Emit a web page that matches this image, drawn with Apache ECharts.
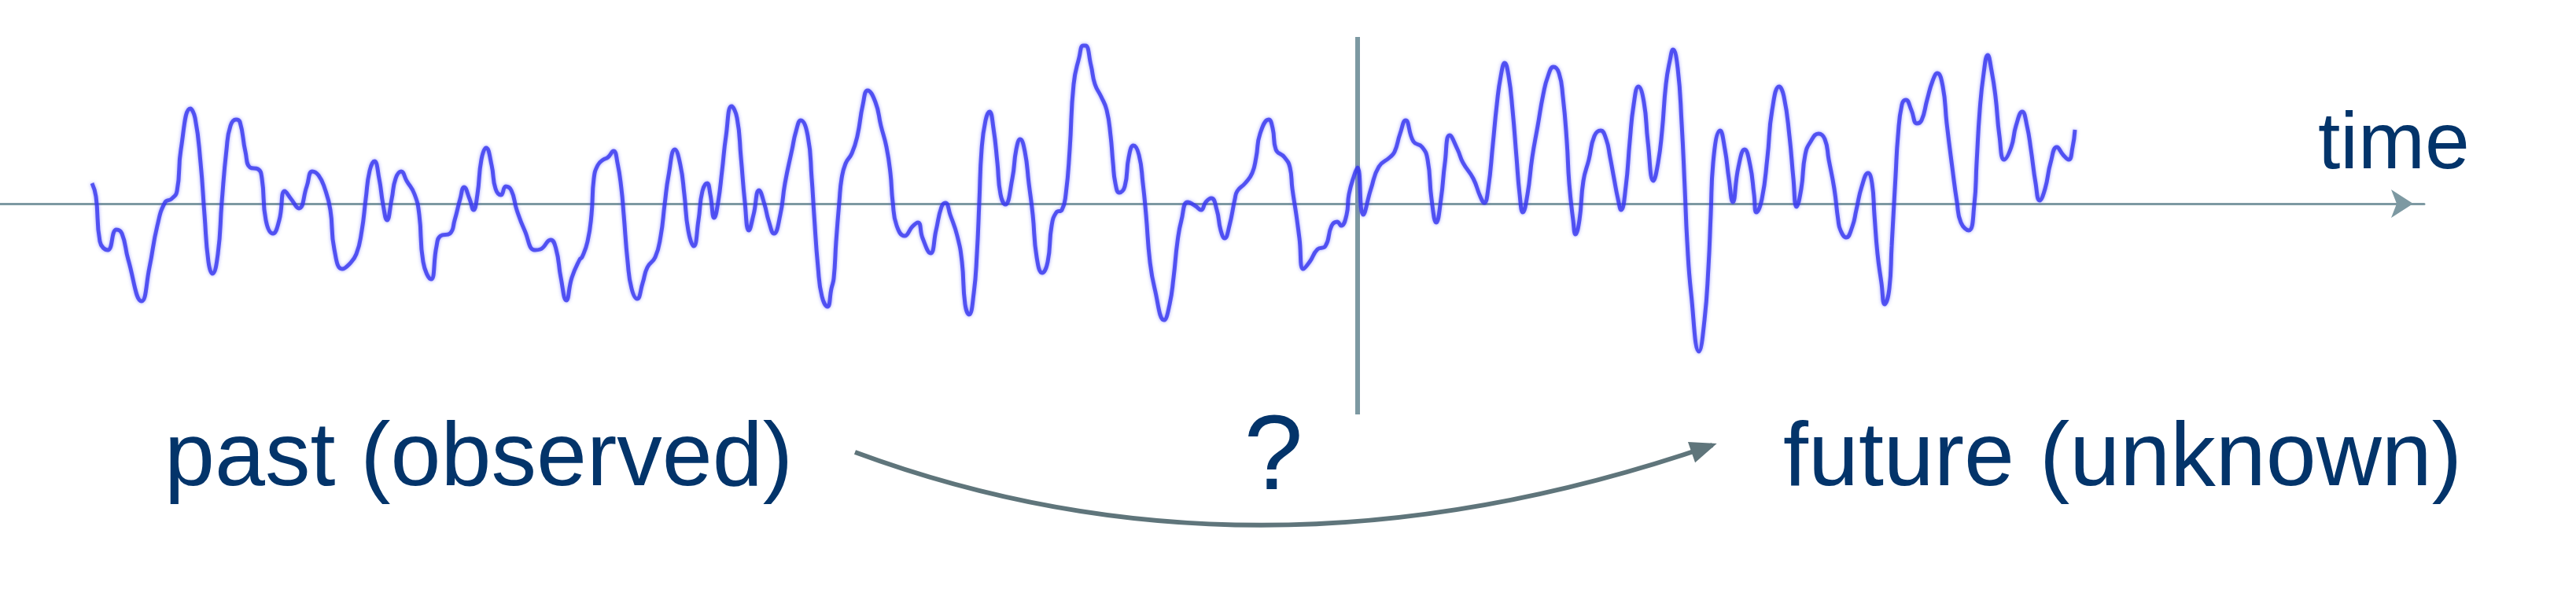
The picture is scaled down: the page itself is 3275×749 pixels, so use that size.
<!DOCTYPE html>
<html>
<head>
<meta charset="utf-8">
<script src="https://cdn.jsdelivr.net/npm/echarts@6/dist/echarts.min.js"></script>
<style>
html,body{margin:0;padding:0;background:#fff;}
#chart{width:3275px;height:749px;}
</style>
</head>
<body>
<div id="chart"></div>
<script>
// Signal samples: time (arbitrary units) and amplitude
const times = [0,5,10,20,31,38,46,63,73,83,93,101,108,113,125,131,138,143,148,153,160,165,171,176,183,188,195,201,211,216,221,230,238,245,253,263,273,280,288,296,
303,308,318,326,336,343,348,353,359,365,370,375,381,386,393,400,410,416,421,431,438,443,455,461,468,473,480,485,490,495,501,508,513,520,526,533,540,550,563,570,583,590,596,603,610,620,
623,630,635,638,643,650,656,663,668,673,676,681,686,693,700,706,716,723,728,733,741,748,753,758,765,771,776,782,786,791,796,801,806,813,820,825,830,835,841,848,855,860,867,875,881,890,895,901,910,915,918,923,928,935,940,
943,946,950,953,958,966,973,980,986,996,1003,1010,1015,1018,1023,1033,1043,1050,1056,1066,1073,1080,1085,1091,1100,1106,1110,1115,1121,1125,1128,1131,1136,1141,1146,1151,1155,1161,1170,1175,1180,1186,1191,1196,1201,1208,1215,1220,1226,1233,1238,1243,1248,1255,1260,
1263,1270,1275,1283,1290,1295,1298,1301,1306,1313,1318,1324,1331,1336,1340,1345,1351,1363,1370,1375,1380,1385,1393,1403,1410,1416,1423,1430,1435,1440,1446,1453,1456,1466,1475,1480,1485,1496,1501,1505,1516,1523,1526,1531,1535,1540,1548,1558,1568,1576,
1583,1588,1595,1598,1605,1609,1616,1626,1636,1650,1656,1663,1670,1680,1691,1698,1703,1709,1715,1720,1726,1736,1743,1756,1765,1770,1775,1781,1786,1791,1796,1801,1806,1811,1815,1819,1825,1831,1838,1845,1851,1858,1865,1870,1875,1878,1883,1886,1891,1896,
1903,1910,1918,1925,1930,1935,1940,1944,1950,1955,1960,1966,1973,1978,1985,1991,1996,2001,2006,2010,2016,2021,2025,2028,2033,2043,2050,2055,2058,2061,2070,2076,2081,2086,2093,2101,2108,2113,2116,2123,2130,2136,2145,2151,2158,2163,2167,2173,2178,2185,2195,2203,2208,2215,2220,
2223,2230,2238,2243,2250,2258,2263,2266,2270,2275,2279,2285,2288,2293,2296,2301,2306,2313,2320,2326,2333,2340,2346,2353,2358,2365,2371,2376,2386,2393,2396,2400,2405,2410,2415,2420,2425,2431,2440,2446,2454,2460,2465,2471,2476,2483,2490,2498,2506,2513,2518,2521];
const values = [26,9,-48,-59,-33,-38,-71,-124,-81,-28,2,6,16,69,121,109,52,-14,-74,-89,-64,2,69,99,107,104,66,46,44,32,-21,-38,-21,16,6,-6,22,41,36,19,
-8,-58,-83,-78,-64,-34,6,42,54,32,-1,-21,6,32,41,29,12,-14,-74,-96,-54,-41,-38,-21,6,21,6,-8,12,56,71,49,19,11,22,17,-8,-34,-59,-58,-46,-58,-94,-123,-94,-71,
-68,-48,-14,32,49,56,59,67,52,19,-14,-74,-108,-121,-101,-81,-68,-41,-1,36,69,49,12,-34,-54,-21,16,26,12,-18,2,42,86,124,109,59,2,-34,-14,17,-1,-21,-38,-14,26,69,92,106,86,32,-14,-81,-118,-131,-108,
-95,-48,2,32,51,64,86,126,144,129,99,72,39,2,-28,-41,-29,-24,-44,-63,-34,-4,1,-14,-41,-74,-128,-141,-114,-64,2,69,106,117,96,52,12,-1,32,69,82,66,26,-14,-68,-88,-74,-28,-11,-8,12,69,152,186,201,
201,176,152,136,119,86,52,26,14,22,59,74,62,26,-14,-74,-108,-148,-128,-94,-48,-21,2,-3,-8,2,7,-8,-34,-44,-28,6,16,26,39,59,89,107,96,69,59,46,19,-14,-44,-83,-74,-58,-54,-28,
-23,-28,-14,12,37,46,-14,19,47,59,66,89,106,79,72,56,6,-24,6,52,87,69,52,32,9,1,19,76,126,162,179,162,119,59,12,-11,12,59,99,139,162,174,166,136,79,26,-21,-39,-21,29,
56,86,93,82,59,32,6,-8,22,79,126,149,129,79,29,52,92,152,182,196,172,102,19,-48,-114,-188,-148,-81,-14,52,93,69,32,2,46,69,49,12,-11,6,59,119,149,136,86,32,-4,19,62,79,89,82,56,19,-21,
-34,-43,-29,-8,22,39,26,-14,-64,-101,-128,-108,-54,36,86,126,132,119,102,106,132,156,166,149,102,46,2,-24,-34,-1,52,119,166,189,169,136,86,56,72,99,117,99,69,26,4,19,52,72,62,56,72,94];
// Reference cut (present moment) and texts
const nowTime = 1609;
const cutRange = [212, -268];
const labels = { axis: 'time', past: 'past (observed)', future: 'future (unknown)', question: '?' };

const signal = times.map((t, i) => [t, values[i]]);
const cutLine = cutRange.map(v => [nowTime, v]);

const chart = echarts.init(document.getElementById('chart'), null, { renderer: 'canvas' });
const navy = '#03346a';
const axisGrey = '#7d99a2';
const font = '"Liberation Sans", Arial, sans-serif';

// Curved arrow geometry (annotation)
const p0 = [1087, 575], pc = [1600, 765], p1 = [2177, 566];
const dx = p1[0] - pc[0], dy = p1[1] - pc[1];
const ang = Math.atan2(dy, dx);
const L = 34, W = 14;
const tip = [p1[0] + Math.cos(ang) * 6, p1[1] + Math.sin(ang) * 6];
const back = [tip[0] - Math.cos(ang) * L, tip[1] - Math.sin(ang) * L];
const nx = -Math.sin(ang), ny = Math.cos(ang);
const head = [tip, [back[0] + nx * W, back[1] + ny * W], [back[0] - nx * W, back[1] - ny * W]];

chart.setOption({
  animation: false,
  backgroundColor: '#ffffff',
  grid: { left: 0, right: 193, top: 9, height: 550, containLabel: false },
  xAxis: {
    type: 'value', min: -117, max: 2965,
    axisLine: { show: true, onZero: true, symbol: ['none', 'arrow'], symbolSize: [27, 28], symbolOffset: [0, -14],
      lineStyle: { color: axisGrey, width: 3 } },
    axisTick: { show: false }, axisLabel: { show: false }, splitLine: { show: false }
  },
  yAxis: {
    type: 'value', min: -300, max: 250, show: false,
    splitLine: { show: false }
  },
  series: [
    {
      type: 'line', data: cutLine, showSymbol: false, silent: true,
      lineStyle: { color: axisGrey, width: 6 }, z: 1
    },
    {
      type: 'line', data: signal, showSymbol: false, smooth: 0.5, silent: true,
      lineStyle: { color: 'rgba(50,50,238,0.78)', width: 5, shadowBlur: 4, shadowColor: 'rgba(90,90,255,0.7)' }, z: 2
    }
  ],
  graphic: [
    { type: 'text', style: { text: labels.axis, x: 2947, y: 237, font: '102px ' + font, fill: navy, textAlign: 'left', textVerticalAlign: 'bottom' } },
    { type: 'text', style: { text: labels.past, x: 209, y: 643, font: '115px ' + font, fill: navy, textAlign: 'left', textVerticalAlign: 'bottom' } },
    { type: 'text', style: { text: labels.future, x: 2267, y: 643, font: '115px ' + font, fill: navy, textAlign: 'left', textVerticalAlign: 'bottom' } },
    { type: 'text', style: { text: labels.question, x: 1619, y: 652, font: '135px ' + font, fill: navy, textAlign: 'center', textVerticalAlign: 'bottom' } },
    { type: 'bezierCurve', shape: { x1: p0[0], y1: p0[1], cpx1: pc[0], cpy1: pc[1], x2: p1[0], y2: p1[1] },
      style: { stroke: '#5f757b', lineWidth: 6, fill: null } },
    { type: 'polygon', shape: { points: head }, style: { fill: '#5f757b' } }
  ]
});
</script>
</body>
</html>
